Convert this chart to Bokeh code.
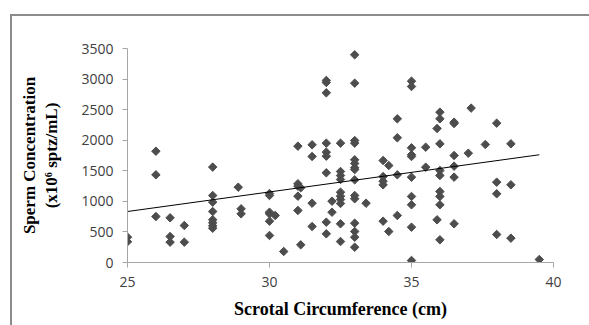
from bokeh.plotting import figure
from bokeh.models import ColumnDataSource, FixedTicker
from bokeh.embed import file_html
from bokeh.resources import INLINE
import math

# Scrotal circumference (cm) and sperm concentration (x10^6 sptz/mL)
circumference = [
    25, 25,
    26, 26, 26,
    26.5, 26.5, 26.5,
    27, 27,
    28, 28, 28, 28, 28, 28, 28, 28,
    28.9, 29, 29,
    30, 30, 30, 30, 30, 30, 30.2, 30.5,
    31, 31, 31, 31, 31, 31.1, 31.1,
    31.5, 31.5, 31.5, 31.5,
    32, 32, 32, 32, 32, 32, 32, 32, 32, 32.2, 32.2,
    32.5, 32.5, 32.5, 32.5, 32.5, 32.5, 32.5, 32.5, 32.5, 32.5,
    33, 33, 33, 33, 33, 33, 33, 33, 33, 33, 33, 33, 33, 33, 33, 33.4,
    34, 34, 34, 34, 34, 34.2, 34.2,
    34.5, 34.5, 34.5, 34.5,
    35, 35, 35, 35, 35, 35, 35, 35, 35, 35,
    35.5, 35.5, 35.9, 35.9,
    36, 36, 36, 36, 36, 36, 36, 36, 36,
    36.5, 36.5, 36.5, 36.5, 36.5, 36.5,
    37, 37.1, 37.6,
    38, 38, 38, 38,
    38.5, 38.5, 38.5,
    39.5,
]
concentration = [
    415, 340,
    1820, 1434, 752,
    731, 425, 333,
    605, 333,
    1560, 1096, 987, 834, 700, 650, 600, 560,
    1232, 878, 796,
    1128, 1096, 823, 796, 676, 442, 769, 180,
    1903, 1287, 1249, 1085, 851, 1222, 289,
    1925, 1734, 970, 589,
    2977, 2944, 2775, 1952, 1805, 1739, 1467, 660, 469, 1003, 823,
    1952, 1488, 1423, 1358, 1150, 1085, 1030, 965, 633, 343,
    3397, 2933, 1995, 1952, 1680, 1620, 1550, 1520, 1352, 1096, 1042, 643, 507, 414, 250, 970,
    1668, 1406, 1330, 1270, 676, 1586, 507,
    2350, 2040, 1434, 769,
    2966, 2879, 1876, 1762, 1734, 1396, 1080, 944, 578, 33,
    1886, 1559, 2192, 698,
    2459, 2350, 1941, 1505, 1423, 1161, 1080, 944, 371,
    2295, 2273, 1750, 1576, 1396, 633,
    1788, 2525, 1930,
    2279, 1314, 1124, 458,
    1941, 1271, 398,
    49,
]

# Linear trend line (end points as drawn)
trend_x = [25, 39.5]
trend_y = [834, 1762]

x_ticks = [25, 30, 35, 40]
y_ticks = [0, 500, 1000, 1500, 2000, 2500, 3000, 3500]

border_css = ("linear-gradient(#8c8c8c, #8c8c8c) 10px 14px / 100% 2px no-repeat, "
              "linear-gradient(#8c8c8c, #8c8c8c) 10px 14px / 2px 100% no-repeat, #ffffff")

p = figure(width=589, height=325, output_backend="svg", toolbar_location=None,
           x_range=(25, 40), y_range=(0, 3500),
           min_border_left=127, min_border_right=36,
           min_border_top=48, min_border_bottom=63,
           styles={"background": border_css})
p.outline_line_color = None
p.grid.grid_line_color = None
p.border_fill_alpha = 0
p.background_fill_color = "#ffffff"

src = ColumnDataSource(dict(x=circumference, y=concentration))
p.scatter("x", "y", source=src, marker="square", size=6, angle=math.pi / 4,
          fill_color="#4d4d4d", line_color="#4d4d4d")
p.line(trend_x, trend_y, line_color="#000000", line_width=1)

for ax in (p.xaxis[0], p.yaxis[0]):
    ax.axis_line_color = "#a6a6a6"
    ax.major_tick_line_color = "#a6a6a6"
    ax.major_tick_out = 5
    ax.major_tick_in = 0
    ax.minor_tick_line_color = None
    ax.major_label_text_font = "Open Sans"
    ax.major_label_text_font_size = "14px"
    ax.major_label_text_color = "#404040"
    ax.axis_label_text_font = "Liberation Serif"
    ax.axis_label_text_font_style = "bold"
    ax.axis_label_text_color = "#000000"

p.xaxis.axis_label_text_font_size = "18px"
p.yaxis.axis_label_text_font_size = "17px"
p.xaxis.ticker = FixedTicker(ticks=x_ticks)
p.yaxis.ticker = FixedTicker(ticks=y_ticks)
p.xaxis.major_label_standoff = 9
p.yaxis.major_label_standoff = 9
p.xaxis.axis_label = "Scrotal Circumference (cm)"
p.xaxis.axis_label_standoff = 9
p.yaxis.axis_label = "Sperm Concentration\n(x10\u2076 sptz/mL)"
p.yaxis.axis_label_standoff = 17

open("out.html", "w").write(file_html(p, INLINE))
